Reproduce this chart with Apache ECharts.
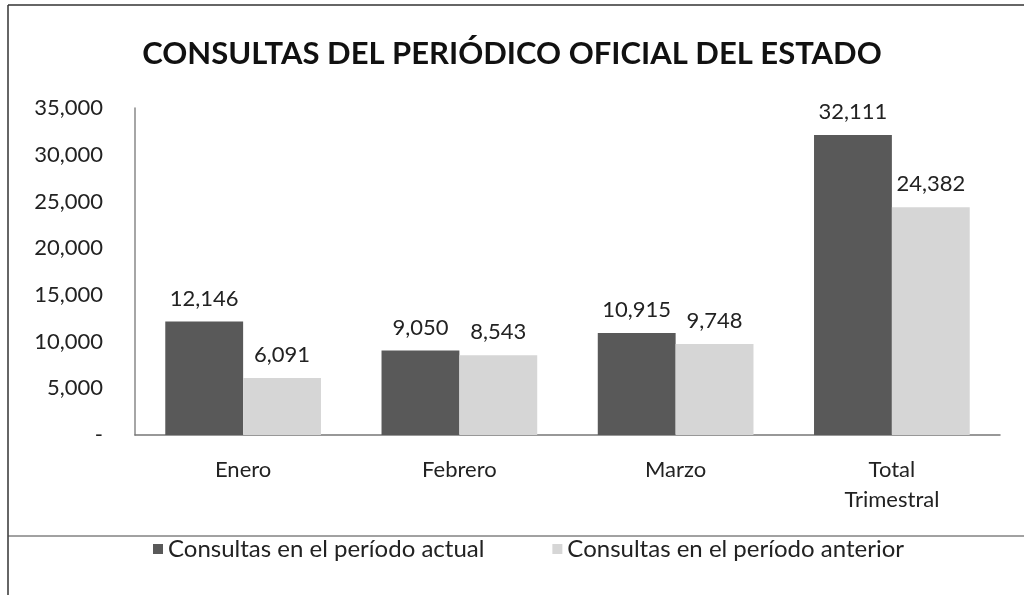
<!DOCTYPE html>
<html>
<head>
<meta charset="utf-8">
<script src="https://cdn.jsdelivr.net/npm/echarts@6/dist/echarts.min.js"></script>
<style>
  html, body { margin: 0; padding: 0; background: #fff; }
  #chart { width: 1024px; height: 595px; }
</style>
</head>
<body>
<div id="chart"></div>
<script>
  var categories = ['Enero', 'Febrero', 'Marzo', 'Total\nTrimestral'];
  var actual = [12146, 9050, 10915, 32111];
  var anterior = [6091, 8543, 9748, 24382];
  var seriesNames = ['Consultas en el período actual', 'Consultas en el período anterior'];

  var font = 'Lato, "Open Sans", sans-serif';

  function fmt(v) {
    if (v === 0) return '-';
    return v.toString().replace(/\B(?=(\d{3})+(?!\d))/g, ',');
  }

  var chart = echarts.init(document.getElementById('chart'));
  var option = {
    backgroundColor: '#fff',
    animation: false,
    textStyle: { fontFamily: font },
    title: {
      text: 'CONSULTAS DEL PERIÓDICO OFICIAL DEL ESTADO',
      left: 'center',
      top: 33,
      textStyle: { fontSize: 31, fontWeight: 'bold', color: '#111', fontFamily: font }
    },
    legend: {
      top: 532,
      left: 148,
      itemGap: 68,
      itemWidth: 10,
      itemHeight: 10,
      icon: 'rect',
      textStyle: { fontSize: 24, color: '#222', fontFamily: font },
      data: seriesNames
    },
    grid: { left: 135, right: 24, top: 108, bottom: 160, containLabel: false },
    xAxis: {
      type: 'category',
      data: categories,
      axisLine: { lineStyle: { color: '#777', width: 1.5 } },
      axisTick: { show: false },
      axisLabel: { fontSize: 22, color: '#222', margin: 20, lineHeight: 30 }
    },
    yAxis: {
      type: 'value',
      min: 0,
      max: 35000,
      interval: 5000,
      axisLine: { show: true, lineStyle: { color: '#888', width: 1.5 } },
      axisTick: { show: false },
      splitLine: { show: false },
      axisLabel: { fontSize: 22, color: '#222', margin: 32, formatter: fmt }
    },
    series: [
      {
        name: seriesNames[0],
        type: 'bar',
        data: actual,
        barGap: '0%',
        barCategoryGap: '28%',
        itemStyle: { color: '#595959' },
        label: { show: true, position: 'top', distance: 12, fontSize: 22, color: '#222', formatter: function (p) { return fmt(p.value); } }
      },
      {
        name: seriesNames[1],
        type: 'bar',
        data: anterior,
        itemStyle: { color: '#d6d6d6' },
        label: { show: true, position: 'top', distance: 12, fontSize: 22, color: '#222', formatter: function (p) { return fmt(p.value); } }
      }
    ],
    graphic: [
      { type: 'line', shape: { x1: 8, y1: 5, x2: 1024, y2: 5 }, style: { stroke: '#333', lineWidth: 1.5 } },
      { type: 'line', shape: { x1: 8, y1: 5, x2: 8, y2: 595 }, style: { stroke: '#333', lineWidth: 1.5 } },
      { type: 'line', shape: { x1: 8, y1: 536, x2: 1024, y2: 536 }, style: { stroke: '#444', lineWidth: 1 } }
    ]
  };
  chart.setOption(option);
</script>
</body>
</html>
